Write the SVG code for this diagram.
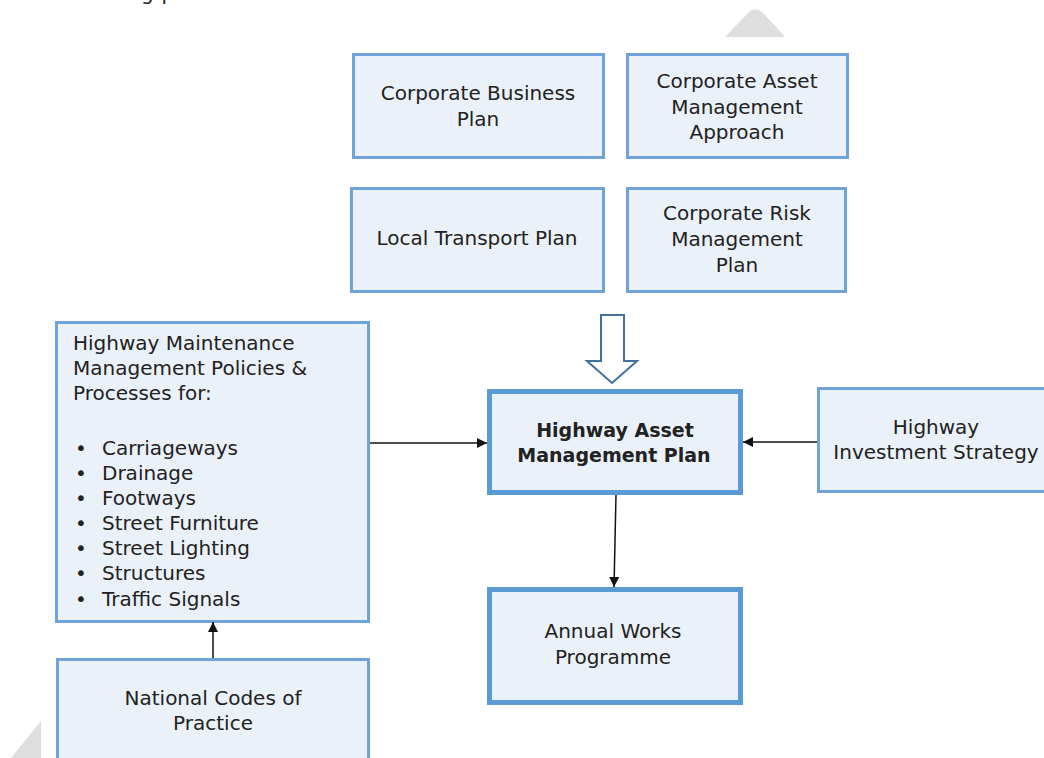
<svg xmlns="http://www.w3.org/2000/svg" width="1044" height="758" viewBox="0 0 1044 758">
  <style>
    .box { fill: #eaf1f9; stroke: #6fa3d9; stroke-width: 3; }
    .main { fill: #eaf1f9; stroke: #5b9bd5; stroke-width: 5; }
    text { font-family: "DejaVu Sans", "Liberation Sans", sans-serif; font-size: 20px; fill: #222; }
    .c { text-anchor: middle; }
    .b { font-weight: bold; font-size: 19px; }
    .conn { stroke: #111; stroke-width: 1.5; fill: none; }
    .wm { fill: #dedede; }
  </style>
  <defs>
    <marker id="ah" viewBox="0 0 10 10" refX="10" refY="5" markerUnits="userSpaceOnUse" markerWidth="12" markerHeight="10" orient="auto">
      <path d="M0,0 L10,5 L0,10 z" fill="#111"/>
    </marker>
  </defs>

  <rect width="1044" height="758" fill="#ffffff"/>

  <!-- watermark fragments -->
  <path class="wm" d="M725,37 L750,11 Q757,7 764,14 Q775,25 785,37 Z"/>
  <path class="wm" d="M11,758 L41,721 L41,758 Z"/>

  <!-- cut-off text at top of page -->
  <text x="58" y="0" font-size="22" textLength="216" lengthAdjust="spacing">following processes.</text>

  <g id="corporate-business-plan">
    <rect class="box" x="353.5" y="54.5" width="250" height="103"/>
    <text class="c" x="478" y="100">Corporate Business</text>
    <text class="c" x="478" y="126">Plan</text>
  </g>

  <g id="corporate-asset-management-approach">
    <rect class="box" x="627.5" y="54.5" width="220" height="103"/>
    <text class="c" x="737" y="88">Corporate Asset</text>
    <text class="c" x="737" y="114">Management</text>
    <text class="c" x="737" y="139">Approach</text>
  </g>

  <g id="local-transport-plan">
    <rect class="box" x="351.5" y="188.5" width="252" height="103"/>
    <text class="c" x="477" y="245">Local Transport Plan</text>
  </g>

  <g id="corporate-risk-management-plan">
    <rect class="box" x="627.5" y="188.5" width="218" height="103"/>
    <text class="c" x="737" y="220">Corporate Risk</text>
    <text class="c" x="737" y="246">Management</text>
    <text class="c" x="737" y="272">Plan</text>
  </g>

  <g id="input-arrow">
    <polygon points="601,315 624,315 624,361 637,361 612,383 587,361 601,361" fill="#ffffff" stroke="#41719c" stroke-width="2" stroke-linejoin="miter"/>
  </g>

  <g id="highway-maintenance-policies">
    <rect class="box" x="56.5" y="322.5" width="312" height="299"/>
    <text x="73" y="350">Highway Maintenance</text>
    <text x="73" y="375">Management Policies &amp;</text>
    <text x="73" y="400">Processes for:</text>
    <text x="75" y="455">•</text><text x="102" y="455">Carriageways</text>
    <text x="75" y="480">•</text><text x="102" y="480">Drainage</text>
    <text x="75" y="505">•</text><text x="102" y="505">Footways</text>
    <text x="75" y="530">•</text><text x="102" y="530">Street Furniture</text>
    <text x="75" y="555">•</text><text x="102" y="555">Street Lighting</text>
    <text x="75" y="580">•</text><text x="102" y="580">Structures</text>
    <text x="75" y="606">•</text><text x="102" y="606">Traffic Signals</text>
  </g>

  <g id="highway-asset-management-plan">
    <rect class="main" x="489.5" y="391.5" width="251" height="101"/>
    <text class="c b" x="615" y="437">Highway Asset</text>
    <text class="c b" x="614" y="462">Management Plan</text>
  </g>

  <g id="highway-investment-strategy">
    <rect class="box" x="818.5" y="388.5" width="240" height="103"/>
    <text class="c" x="936" y="434">Highway</text>
    <text class="c" x="936" y="459">Investment Strategy</text>
  </g>

  <g id="annual-works-programme">
    <rect class="main" x="489.5" y="589.5" width="251" height="113"/>
    <text class="c" x="613" y="638">Annual Works</text>
    <text class="c" x="613" y="664">Programme</text>
  </g>

  <g id="national-codes-of-practice">
    <rect class="box" x="57.5" y="659.5" width="311" height="110"/>
    <text class="c" x="213" y="705">National Codes of</text>
    <text class="c" x="213" y="730">Practice</text>
  </g>

  <g id="connectors">
    <path class="conn" d="M370,443 L487,443" marker-end="url(#ah)"/>
    <path class="conn" d="M817,442 L743,442" marker-end="url(#ah)"/>
    <path class="conn" d="M616,495 L614,587" marker-end="url(#ah)"/>
    <path class="conn" d="M213,658 L213,622" marker-end="url(#ah)"/>
  </g>
</svg>
